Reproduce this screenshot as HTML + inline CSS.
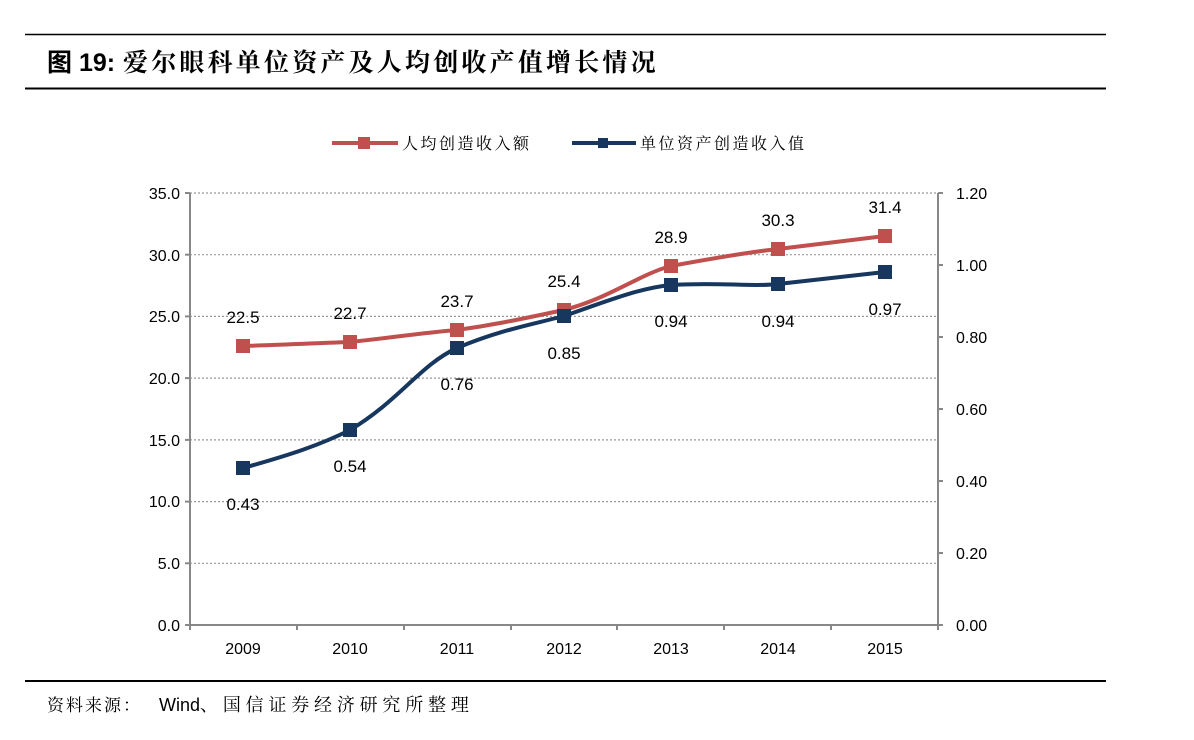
<!DOCTYPE html>
<html><head><meta charset="utf-8"><style>
body{margin:0;background:#fff;width:1194px;height:740px;overflow:hidden}
svg{display:block}
</style></head><body>
<svg width="1194" height="740" xmlns="http://www.w3.org/2000/svg" font-family="'Liberation Sans','Noto Sans CJK SC',sans-serif">
<line x1="25" y1="34.5" x2="1106" y2="34.5" stroke="#000" stroke-width="1.5"/>
<text x="47" y="71" font-size="25" font-weight="bold" fill="#000">图 19:<tspan x="123" letter-spacing="3.2" font-family="'Liberation Serif','Noto Serif CJK SC',serif">爱尔眼科单位资产及人均创收产值增长情况</tspan></text>
<line x1="25" y1="88.5" x2="1106" y2="88.5" stroke="#000" stroke-width="2"/>
<!-- legend -->
<line x1="332" y1="143" x2="398" y2="143" stroke="#c0504d" stroke-width="4"/>
<rect x="358" y="137" width="12" height="12" fill="#c0504d"/>
<text x="402" y="149" font-size="16" letter-spacing="2.5" fill="#000" font-family="'Liberation Serif','Noto Serif CJK SC',serif">人均创造收入额</text>
<line x1="572" y1="143" x2="636" y2="143" stroke="#17375e" stroke-width="4"/>
<rect x="598" y="138" width="10" height="10" fill="#17375e"/>
<text x="640" y="149" font-size="16" letter-spacing="2.5" fill="#000" font-family="'Liberation Serif','Noto Serif CJK SC',serif">单位资产创造收入值</text>
<!-- grid -->
<g stroke="#999" stroke-width="1.2" stroke-dasharray="2,2">
<line x1="190" y1="193" x2="938" y2="193"/>
<line x1="190" y1="254.7" x2="938" y2="254.7"/>
<line x1="190" y1="316.4" x2="938" y2="316.4"/>
<line x1="190" y1="378.1" x2="938" y2="378.1"/>
<line x1="190" y1="439.9" x2="938" y2="439.9"/>
<line x1="190" y1="501.6" x2="938" y2="501.6"/>
<line x1="190" y1="563.3" x2="938" y2="563.3"/>
</g>
<g stroke="#888" stroke-width="2" fill="none">
<line x1="190" y1="193" x2="190" y2="625"/>
<line x1="938" y1="193" x2="938" y2="625"/>
<line x1="190" y1="625" x2="938" y2="625"/>
<line x1="185" y1="193" x2="190" y2="193"/><line x1="185" y1="254.7" x2="190" y2="254.7"/><line x1="185" y1="316.4" x2="190" y2="316.4"/><line x1="185" y1="378.1" x2="190" y2="378.1"/><line x1="185" y1="439.9" x2="190" y2="439.9"/><line x1="185" y1="501.6" x2="190" y2="501.6"/><line x1="185" y1="563.3" x2="190" y2="563.3"/><line x1="185" y1="625" x2="190" y2="625"/>
<line x1="938" y1="193" x2="943" y2="193"/><line x1="938" y1="265" x2="943" y2="265"/><line x1="938" y1="337" x2="943" y2="337"/><line x1="938" y1="409" x2="943" y2="409"/><line x1="938" y1="481" x2="943" y2="481"/><line x1="938" y1="553" x2="943" y2="553"/><line x1="938" y1="625" x2="943" y2="625"/>
<line x1="190" y1="625" x2="190" y2="630"/><line x1="297" y1="625" x2="297" y2="630"/><line x1="404" y1="625" x2="404" y2="630"/><line x1="511" y1="625" x2="511" y2="630"/><line x1="617" y1="625" x2="617" y2="630"/><line x1="724" y1="625" x2="724" y2="630"/><line x1="831" y1="625" x2="831" y2="630"/><line x1="938" y1="625" x2="938" y2="630"/>
</g>
<g font-size="16" fill="#000" text-anchor="end">
<text x="180" y="199">35.0</text><text x="180" y="261">30.0</text><text x="180" y="322">25.0</text><text x="180" y="384">20.0</text><text x="180" y="446">15.0</text><text x="180" y="507">10.0</text><text x="180" y="569">5.0</text><text x="180" y="631">0.0</text>
</g>
<g font-size="16" fill="#000">
<text x="956" y="199">1.20</text><text x="956" y="271">1.00</text><text x="956" y="343">0.80</text><text x="956" y="415">0.60</text><text x="956" y="487">0.40</text><text x="956" y="559">0.20</text><text x="956" y="631">0.00</text>
</g>
<g font-size="16" fill="#000" text-anchor="middle">
<text x="243" y="654">2009</text><text x="350" y="654">2010</text><text x="457" y="654">2011</text><text x="564" y="654">2012</text><text x="671" y="654">2013</text><text x="778" y="654">2014</text><text x="885" y="654">2015</text>
</g>
<!-- red -->
<path d="M243,346 C280,345 320,343 350,342 C390,338 420,333 457,330 C500,324 530,317 564,310 C610,298 640,274 671,266 C720,257 750,252 778,249 C820,244 860,239 885,236" fill="none" stroke="#c0504d" stroke-width="4"/>
<g fill="#c0504d">
<rect x="236" y="339" width="14" height="14"/><rect x="343" y="335" width="14" height="14"/><rect x="450" y="323" width="14" height="14"/><rect x="557" y="303" width="14" height="14"/><rect x="664" y="259" width="14" height="14"/><rect x="771" y="242" width="14" height="14"/><rect x="878" y="229" width="14" height="14"/>
</g>
<!-- blue -->
<path d="M243,468 C290,455 320,445 350,430 C400,400 420,365 457,348 C500,330 530,325 564,316 C610,300 640,288 671,285 C720,282 750,287 778,284 C820,279 860,275 885,272" fill="none" stroke="#17375e" stroke-width="4"/>
<g fill="#17375e">
<rect x="236" y="461" width="14" height="14"/><rect x="343" y="423" width="14" height="14"/><rect x="450" y="341" width="14" height="14"/><rect x="557" y="309" width="14" height="14"/><rect x="664" y="278" width="14" height="14"/><rect x="771" y="277" width="14" height="14"/><rect x="878" y="265" width="14" height="14"/>
</g>
<g font-size="17" fill="#000" text-anchor="middle">
<text x="243" y="323">22.5</text><text x="350" y="319">22.7</text><text x="457" y="307">23.7</text><text x="564" y="287">25.4</text><text x="671" y="243">28.9</text><text x="778" y="226">30.3</text><text x="885" y="213">31.4</text>
<text x="243" y="510">0.43</text><text x="350" y="472">0.54</text><text x="457" y="390">0.76</text><text x="564" y="359">0.85</text><text x="671" y="327">0.94</text><text x="778" y="327">0.94</text><text x="885" y="315">0.97</text>
</g>
<line x1="25" y1="681" x2="1106" y2="681" stroke="#000" stroke-width="2"/>
<text x="47" y="711" font-size="17" fill="#000" font-family="'Liberation Serif','Noto Serif CJK SC',serif" letter-spacing="2">资料来源：</text>
<text x="159" y="711" font-size="18" fill="#000">Wind<tspan font-family="'Liberation Serif','Noto Serif CJK SC',serif" letter-spacing="4.8">、国信证券经济研究所整理</tspan></text>
</svg>
</body></html>
